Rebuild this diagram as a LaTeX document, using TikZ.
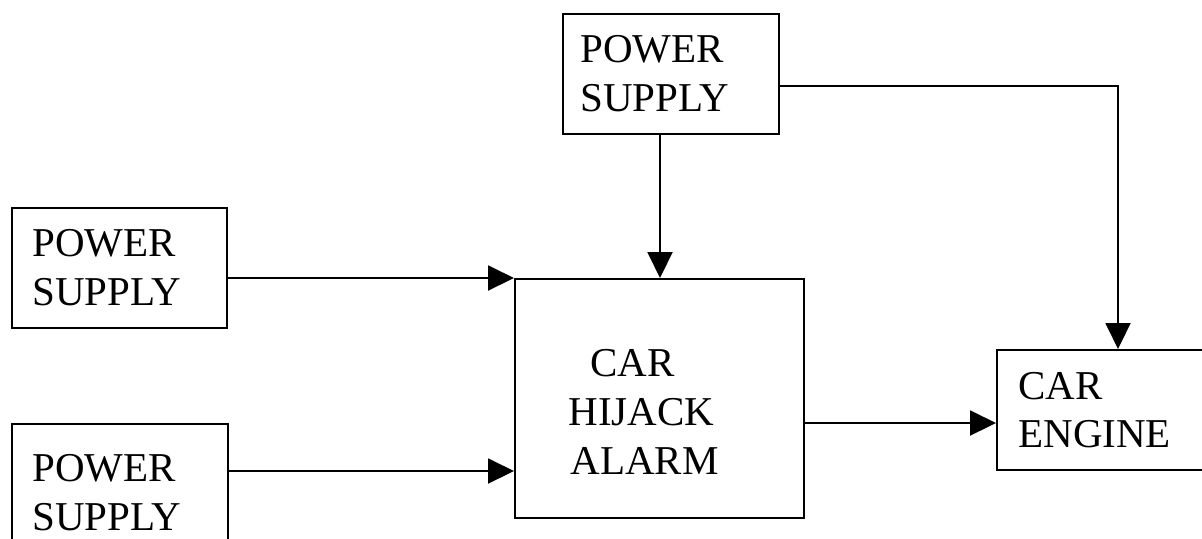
\documentclass[tikz,border=0pt]{standalone}
\usepackage{fontspec}
\setmainfont{Liberation Serif}
\usetikzlibrary{arrows.meta,calc}
\begin{document}
\begin{tikzpicture}[x=0.5pt,y=-0.5pt,
  box/.style={draw=black, line width=1pt, rectangle, inner sep=0pt, anchor=north west},
  lbl/.style={inner sep=0pt, anchor=north west, align=left, font=\fontsize{20.5}{24.5}\selectfont},
  arr/.style={draw=black, line width=1pt, -{Triangle[length=13pt,width=12.5pt]}}]
\useasboundingbox (0,0) rectangle (1202,538);
\clip (0,0) rectangle (1202,538);
% boxes
\node[box, minimum width=107.5pt, minimum height=60pt] (ps1) at (11,207) {};
\node[box, minimum width=108pt, minimum height=70pt] (ps2) at (11,423) {};
\node[box, minimum width=108pt, minimum height=60pt] (pst) at (562,13) {};
\node[box, minimum width=144.5pt, minimum height=119.5pt] (alarm) at (514,278) {};
\node[box, minimum width=110pt, minimum height=60pt] (engine) at (996,349) {};
% texts
\node[lbl] (ps1t) at (32,229) {POWER\\SUPPLY};
\node[lbl] (ps2t) at (32,454) {POWER\\SUPPLY};
\node[lbl] (pstt) at (580,35) {POWER\\SUPPLY};
\node[lbl] (alarmt) at (568,349) {\hspace*{11pt}CAR\\HIJACK\\\hspace*{1pt}ALARM};
\node[lbl, font=\fontsize{20.5}{24}\selectfont] (enginet) at (1018,372) {CAR\\ENGINE};
% connectors
\draw[arr] ([xshift=-5.5pt]pst.south) -- ([xshift=-5.5pt]pst.south |- alarm.north);
\draw[arr] ([yshift=-6pt]pst.east) -| ([xshift=5.5pt]engine.north);
\draw[arr] (ps1.east |- alarm.north west) -- (alarm.north west);
\coordinate (in2) at ([yshift=-36.25pt]alarm.west);
\draw[arr] (ps2.east |- in2) -- (in2);
\coordinate (in3) at ([yshift=-6.5pt]engine.west);
\draw[arr] (alarm.east |- in3) -- (in3);
\end{tikzpicture}
\end{document}
